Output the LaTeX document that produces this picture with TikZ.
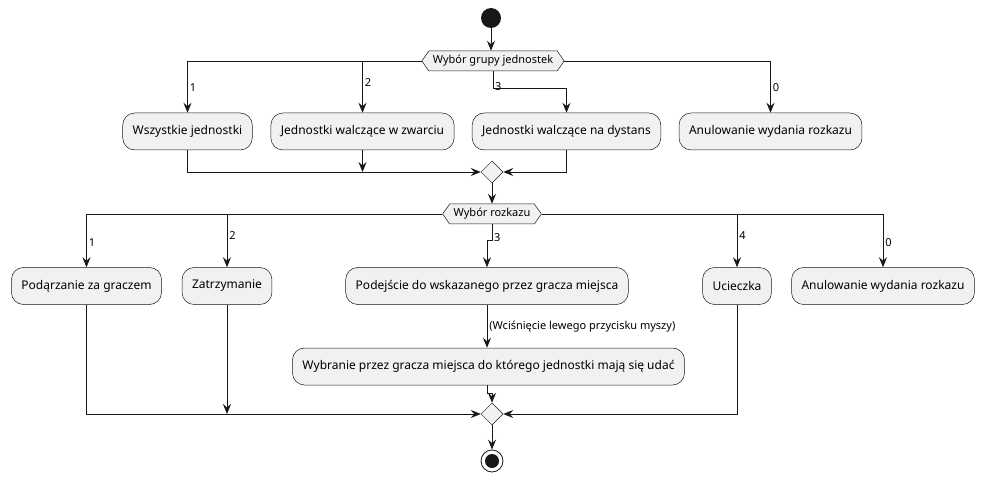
\documentclass[tikz,border=0pt]{standalone}
\usepackage{fontspec}
\setmainfont{Noto Sans}
\usepackage{xcolor}
\usetikzlibrary{shapes.geometric,shapes.symbols,arrows.meta}

\definecolor{actfill}{HTML}{F1F1F1}
\definecolor{lineclr}{HTML}{181818}

\tikzset{
  act/.style={draw=lineclr, line width=0.5pt, fill=actfill, rounded corners=12pt,
    minimum height=37pt, inner xsep=10pt, font=\fontsize{12}{14}\selectfont},
  choice/.style={signal, signal to=west and east, signal pointer angle=110,
    draw=lineclr, line width=0.5pt, fill=actfill, minimum height=20pt,
    inner xsep=4pt, inner ysep=2pt, font=\fontsize{11}{13}\selectfont},
  merge/.style={diamond, draw=lineclr, line width=0.5pt, fill=actfill,
    minimum size=22pt, inner sep=0pt},
  startdot/.style={circle, fill=lineclr, minimum size=20pt, inner sep=0pt},
  endring/.style={circle, draw=lineclr, line width=0.8pt, fill=white, minimum size=22pt,
    inner sep=0pt, path picture={\fill[lineclr] (path picture bounding box.center) circle (7pt);}},
  flow/.style={draw=lineclr, line width=0.8pt, -{Stealth[length=10pt,width=8pt,inset=3.5pt]}},
  lbl/.style={font=\fontsize{11}{13}\selectfont, inner sep=2pt}
}

\begin{document}
\begin{tikzpicture}[x=1pt,y=-1pt]
\useasboundingbox (0,0) rectangle (983,481);

% Start
\node[startdot] (start) at (491,18) {};

% Unit group choice
\node[choice] (grp) at (493,61) {Wybór grupy jednostek};
\node[act] (all) at (187.5,131.5) {Wszystkie jednostki};
\node[act] (melee) at (362.5,131.5) {Jednostki walczące w zwarciu};
\node[act] (ranged) at (566.5,131.5) {Jednostki walczące na dystans};
\node[act] (cancelA) at (770.5,131.5) {Anulowanie wydania rozkazu};
\node[merge] (mergeA) at (492,172) {};

\draw[flow] (start.south) -- (start.south |- grp.north);
\draw[flow] (grp.west) -| node[lbl, pos=0.76, right] {1} (all.north);
\draw[flow] (grp.west) -| node[lbl, pos=0.71, right] {2} (melee.north);
\draw[flow] (grp.south) -- ++(0,17) coordinate (grp3) -| (ranged.north);
\node[lbl, anchor=west, yshift=2pt] at (grp3) {3};
\draw[flow] (grp.east) -| node[lbl, pos=0.76, right] {0} (cancelA.north);

\draw[flow] (all.south) |- (mergeA.west);
\draw[flow] (melee.south) -- (melee.south |- mergeA.west);
\draw[flow] (ranged.south) |- (mergeA.east);

% Order choice
\node[choice] (ord) at (492,214) {Wybór rozkazu};
\node[act] (follow) at (86.5,286) {Podąrzanie za graczem};
\node[act] (halt) at (227,286) {Zatrzymanie};
\node[act] (goto) at (487,286) {Podejście do wskazanego przez gracza miejsca};
\node[act] (flee) at (737,286) {Ucieczka};
\node[act] (cancelB) at (883,286) {Anulowanie wydania rozkazu};
\node[act] (pick) at (488.5,366.5) {Wybranie przez gracza miejsca do którego jednostki mają się udać};
\node[merge] (mergeB) at (492,414) {};

\draw[flow] (mergeA.south) -- (ord.north);
\draw[flow] (ord.west) -| node[lbl, pos=0.77, right] {1} (follow.north);
\draw[flow] (ord.west) -| node[lbl, pos=0.7, right] {2} (halt.north);
\draw[flow] (ord.south) -- ++(0,16) coordinate (ord3) -| (goto.north);
\node[lbl, anchor=west, yshift=3pt] at (ord3) {3};
\draw[flow] (ord.east) -| node[lbl, pos=0.7, right] {4} (flee.north);
\draw[flow] (ord.east) -| node[lbl, pos=0.77, right] {0} (cancelB.north);

\draw[flow] (goto.south) -- node[lbl, right] {(Wciśnięcie lewego przycisku myszy)} (goto.south |- pick.north);
\draw[flow] (follow.south) |- (mergeB.west);
\draw[flow] (halt.south) -- (halt.south |- mergeB.west);
\draw[flow] (goto.south |- pick.south) -- ++(0,8) -| (mergeB.north);
\draw[flow] (flee.south) |- (mergeB.east);

% End
\node[endring] (stop) at (492,461) {};
\draw[flow] (mergeB.south) -- (stop.north);
\end{tikzpicture}
\end{document}
